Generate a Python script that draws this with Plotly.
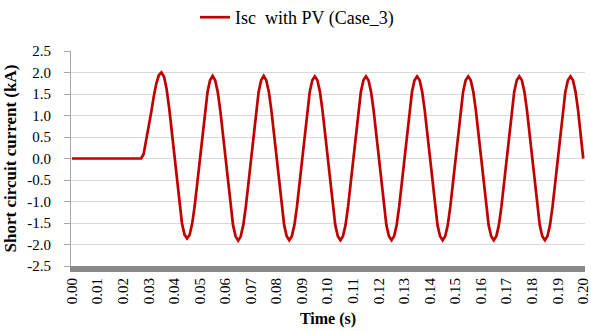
import plotly.graph_objects as go

# Time axis (s), one sample per millisecond
time_s = [round(i * 0.001, 3) for i in range(201)]

# Short circuit current (kA)
isc_ka = (
    [0.0] * 28 +                                   # 0.000 - 0.027 (pre-fault)
    [0.10, 0.40, 0.75, 1.08, 1.45, 1.75, 1.94,     # 0.028 - 0.034
     2.00, 1.90, 1.62, 1.18, 0.62, 0.05, -0.53,    # 0.035 - 0.041
     -1.08, -1.50, -1.77, -1.86, -1.78, -1.52,     # 0.042 - 0.047
     -1.10, -0.58, 0.00, 0.59, 1.12, 1.54, 1.82] + # 0.048 - 0.054
    # 0.055 - 0.074
    [1.92, 1.82, 1.55, 1.12, 0.59, 0.00, -0.59, -1.12, -1.55, -1.81,
     -1.91, -1.81, -1.55, -1.12, -0.59, 0.00, 0.59, 1.12, 1.55, 1.82] +
    # 0.075 - 0.094
    [1.92, 1.82, 1.55, 1.12, 0.59, 0.00, -0.59, -1.12, -1.55, -1.81,
     -1.90, -1.81, -1.55, -1.12, -0.59, 0.00, 0.59, 1.12, 1.55, 1.82] +
    # 0.095 - 0.114
    [1.91, 1.82, 1.55, 1.12, 0.59, 0.00, -0.59, -1.12, -1.55, -1.81,
     -1.90, -1.81, -1.55, -1.12, -0.59, 0.00, 0.59, 1.12, 1.55, 1.82] +
    # 0.115 - 0.134
    [1.91, 1.82, 1.55, 1.12, 0.59, 0.00, -0.59, -1.12, -1.55, -1.81,
     -1.90, -1.81, -1.55, -1.12, -0.59, 0.00, 0.59, 1.12, 1.55, 1.82] +
    # 0.135 - 0.154
    [1.91, 1.82, 1.55, 1.12, 0.59, 0.00, -0.59, -1.12, -1.55, -1.81,
     -1.90, -1.81, -1.55, -1.12, -0.59, 0.00, 0.59, 1.12, 1.55, 1.82] +
    # 0.155 - 0.174
    [1.91, 1.82, 1.55, 1.12, 0.59, 0.00, -0.59, -1.12, -1.55, -1.81,
     -1.90, -1.81, -1.55, -1.12, -0.59, 0.00, 0.59, 1.12, 1.55, 1.82] +
    # 0.175 - 0.194
    [1.91, 1.82, 1.55, 1.12, 0.59, 0.00, -0.59, -1.12, -1.55, -1.81,
     -1.90, -1.81, -1.55, -1.12, -0.59, 0.00, 0.59, 1.12, 1.55, 1.82] +
    # 0.195 - 0.200
    [1.91, 1.82, 1.55, 1.12, 0.59, 0.00]
)

x_ticks = [round(i * 0.01, 2) for i in range(21)]
x_tick_labels = [f"{v:.2f}" for v in x_ticks]
y_ticks = [2.5, 2.0, 1.5, 1.0, 0.5, 0.0, -0.5, -1.0, -1.5, -2.0, -2.5]
y_tick_labels = [f"{v:.1f}" for v in y_ticks]

series_name = "Isc\u00a0 with PV (Case_3)"

FONT = "Liberation Serif"

fig = go.Figure()
fig.add_trace(go.Scatter(
    x=time_s, y=isc_ka, mode="lines", name=series_name,
    line=dict(color="#c00000", width=2.7),
))

fig.update_layout(
    width=591, height=331,
    margin=dict(l=71, r=6, t=51, b=65, autoexpand=False),
    paper_bgcolor="white", plot_bgcolor="white",
    font=dict(family=FONT, size=15, color="black"),
    showlegend=True,
    legend=dict(orientation="h", x=(195 - 71) / 514, xanchor="left",
                y=1 - 17.5 / 331, yref="container", yanchor="middle",
                font=dict(family=FONT, size=18), bgcolor="rgba(0,0,0,0)"),
    xaxis=dict(
        range=[-0.0004, 0.2007], tickmode="array", tickvals=x_ticks,
        ticktext=x_tick_labels, tickangle=-90, showgrid=False,
        showline=True, linecolor="#898989", linewidth=6,
        ticks="", zeroline=False, automargin=False,
        ticklabeloverflow="allow",
        tickfont=dict(family=FONT, size=15),
        title=dict(text="<b>Time (s)</b>", font=dict(family=FONT, size=16), standoff=12),
    ),
    yaxis=dict(
        range=[-2.5, 2.5], tickmode="array", tickvals=y_ticks,
        ticktext=y_tick_labels, showgrid=True, gridcolor="#d9d9d9", gridwidth=1,
        showline=True, linecolor="#a6a6a6", linewidth=1,
        ticks="outside", ticklen=6, tickcolor="#a6a6a6", zeroline=False,
        ticklabelstandoff=10, automargin=False,
        tickfont=dict(family=FONT, size=15),
        title=dict(text="<b>Short circuit current (kA)</b>",
                   font=dict(family=FONT, size=17), standoff=6),
    ),
)

fig.write_html(
    "out.html",
    config={"displayModeBar": False},
    post_script="document.body.style.margin='0';document.body.style.overflow='hidden';",
)
